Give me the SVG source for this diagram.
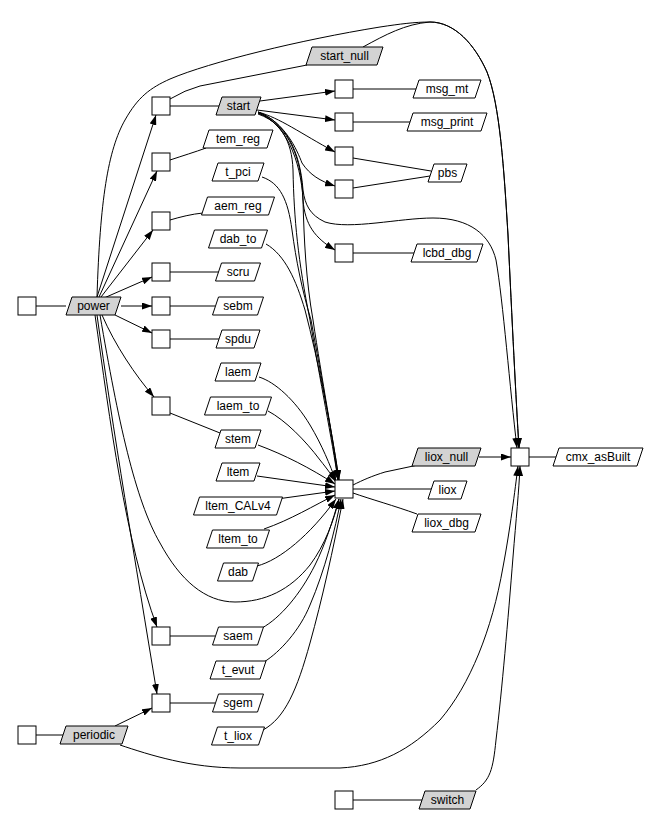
<svg xmlns="http://www.w3.org/2000/svg" width="660" height="816" viewBox="0 0 660 816">
<style>
.b{fill:#fff;stroke:#000;stroke-width:1}
.p{fill:#fff;stroke:#000;stroke-width:1}
.g{fill:#d3d3d3;stroke:#000;stroke-width:1}
text{font-family:"Liberation Sans",Arial,sans-serif;font-size:12px;text-anchor:middle;fill:#000}
.e{fill:none;stroke:#000;stroke-width:1}
.a{marker-end:url(#ah)}
</style>
<defs>
<marker id="ah" viewBox="0 0 10 7" refX="10" refY="3.5" markerWidth="10" markerHeight="7" markerUnits="userSpaceOnUse" orient="auto"><path d="M0,0L10,3.5L0,7z" fill="#000"/></marker>
</defs>
<rect width="660" height="816" fill="#fff"/>
<g id="edges">
<path class="e" d="M36,306L66,306"/>
<path class="e" d="M170,106L219,106"/>
<path class="e" d="M170,160C182,156 195,152 206,148"/>
<path class="e" d="M170,220C180,217 192,214 203,213"/>
<path class="e" d="M170,272L219,272"/>
<path class="e" d="M170,306L215,306"/>
<path class="e" d="M170,339L219,339"/>
<path class="e" d="M170,413L220,433"/>
<path class="e" d="M170,636L215,636"/>
<path class="e" d="M170,703L215,703"/>
<path class="e" d="M36,735L63,735"/>
<path class="e" d="M353,89L416,89"/>
<path class="e" d="M353,122L410,122"/>
<path class="e" d="M353,158L431,171"/>
<path class="e" d="M353,188L430,176"/>
<path class="e" d="M353,253L414,253"/>
<path class="e" d="M353,485C363,480 372,476 385,472L418,465"/>
<path class="e" d="M353,489L431,489"/>
<path class="e" d="M353,493C370,499 395,506 417,514"/>
<path class="e" d="M529,457L556,457"/>
<path class="e" d="M353,800L422,800"/>
<path class="e" d="M170,99Q185,90 200,86L307,65"/>
<path class="e a" d="M97,297L156,115"/>
<path class="e a" d="M99,297L157,171"/>
<path class="e a" d="M101,297L153,230"/>
<path class="e a" d="M104,298L152,277"/>
<path class="e a" d="M121,306L152,306"/>
<path class="e a" d="M115,315L152,333"/>
<path class="e a" d="M102,315C115,345 135,375 154,397"/>
<path class="e a" d="M95,315C110,420 125,540 157,627"/>
<path class="e a" d="M97,315C113,430 135,560 157,694"/>
<path class="e a" d="M100,315C118,420 135,500 160,543C180,580 205,602 235,602C265,602 290,590 310,565C325,545 334,520 339,499"/>
<path class="e a" d="M115,726L152,708"/>
<path class="e a" d="M120,745C150,755 190,768 240,768L340,768C380,766 410,750 440,720C470,685 492,630 503,567C510,530 515,490 518,466"/>
<path class="e a" d="M476,790C490,780 493,770 496,740C502,690 508,620 513,557C516,520 519,490 520,466"/>
<path class="e a" d="M479,457L511,457"/>
<path class="e a" d="M97,297C100,200 108,150 125,120C138,97 150,88 170,79C210,62 300,40 380,27C400,24 415,22 430,22C455,22 475,45 487,72C500,105 504,170 508,235C512,320 516,400 519,448"/>
<path class="e a" d="M363,47C385,35 405,24 430,22C455,22 475,45 487,72C500,105 504,170 508,235C512,320 516,400 519,448"/>
<path class="e a" d="M258,112C285,122 300,150 303,190C305,205 310,215 325,222C350,230 400,218 433,218C470,218 490,235 496,260C503,300 510,390 517,448"/>
<path class="e a" d="M260,101L335,91"/>
<path class="e a" d="M257,110L335,120"/>
<path class="e a" d="M258,112C280,118 300,133 335,152"/>
<path class="e a" d="M258,112C285,122 297,150 302,163C310,175 320,181 335,186"/>
<path class="e a" d="M258,113C285,122 301,160 303,200C305,225 315,238 335,250"/>
<path class="e a" d="M258,113C280,122 292,140 293,170C294,220 298,260 310,320C320,380 332,440 338,480"/>
<path class="e a" d="M258,114C290,125 302,160 303,200C304,240 306,280 313,320C322,380 333,440 339,480"/>
<path class="e a" d="M262,177C280,183 288,200 292,230C296,260 302,290 311,320C322,380 333,440 338,480"/>
<path class="e a" d="M266,244C285,255 296,280 305,310C318,360 332,430 339,480"/>
<path class="e a" d="M259,377C275,382 295,400 310,425C322,445 330,465 336,481"/>
<path class="e a" d="M268,411C285,420 305,440 320,460C328,470 333,477 336,482"/>
<path class="e a" d="M258,445C285,455 310,468 335,484"/>
<path class="e a" d="M257,476L335,487"/>
<path class="e a" d="M277,499L335,491"/>
<path class="e a" d="M264,529C290,520 315,505 335,495"/>
<path class="e a" d="M257,566C280,560 310,535 336,499"/>
<path class="e a" d="M262,628C280,618 300,595 315,565C325,545 333,520 339,499"/>
<path class="e a" d="M264,662C280,652 300,630 310,605C325,570 335,530 341,499"/>
<path class="e a" d="M263,730C285,718 297,690 310,643C322,600 333,550 343,499"/>
</g>
<g id="n_power_box"><rect class="b" x="18" y="297" width="18" height="18"/></g>
<g id="n_power"><polygon class="g" points="66,315 72,297 121,297 115,315"/><text x="93.5" y="310">power</text></g>
<g id="n_periodic_box"><rect class="b" x="18" y="726" width="18" height="18"/></g>
<g id="n_periodic"><polygon class="g" points="60,744 66,726 128,726 122,744"/><text x="94" y="739">periodic</text></g>
<g id="b_start"><rect class="b" x="152" y="97" width="18" height="18"/></g>
<g id="b_tem_reg"><rect class="b" x="152" y="153" width="18" height="18"/></g>
<g id="b_aem_reg"><rect class="b" x="152" y="212" width="18" height="18"/></g>
<g id="b_scru"><rect class="b" x="152" y="263" width="18" height="18"/></g>
<g id="b_sebm"><rect class="b" x="152" y="297" width="18" height="18"/></g>
<g id="b_spdu"><rect class="b" x="152" y="330" width="18" height="18"/></g>
<g id="b_stem"><rect class="b" x="152" y="397" width="18" height="18"/></g>
<g id="b_saem"><rect class="b" x="152" y="627" width="18" height="18"/></g>
<g id="b_sgem"><rect class="b" x="152" y="694" width="18" height="18"/></g>
<g id="n_start"><polygon class="g" points="216,115 222,97 261,97 255,115"/><text x="238.5" y="110">start</text></g>
<g id="n_tem_reg"><polygon class="p" points="203,148 209,130 273,130 267,148"/><text x="238" y="143">tem_reg</text></g>
<g id="n_t_pci"><polygon class="p" points="212,181 218,163 264,163 258,181"/><text x="238" y="176">t_pci</text></g>
<g id="n_aem_reg"><polygon class="p" points="201.5,215 207.5,197 274.5,197 268.5,215"/><text x="238" y="210">aem_reg</text></g>
<g id="n_dab_to"><polygon class="p" points="208.5,248 214.5,230 267.5,230 261.5,248"/><text x="238" y="243">dab_to</text></g>
<g id="n_scru"><polygon class="p" points="215.5,281 221.5,263 260.5,263 254.5,281"/><text x="238" y="276">scru</text></g>
<g id="n_sebm"><polygon class="p" points="212.5,315 218.5,297 263.5,297 257.5,315"/><text x="238" y="310">sebm</text></g>
<g id="n_spdu"><polygon class="p" points="216,348 222,330 260,330 254,348"/><text x="238" y="343">spdu</text></g>
<g id="n_laem"><polygon class="p" points="215,381 221,363 261,363 255,381"/><text x="238" y="376">laem</text></g>
<g id="n_laem_to"><polygon class="p" points="204.5,415 210.5,397 271.5,397 265.5,415"/><text x="238" y="410">laem_to</text></g>
<g id="n_stem"><polygon class="p" points="215,448 221,430 261,430 255,448"/><text x="238" y="443">stem</text></g>
<g id="n_ltem"><polygon class="p" points="216,481 222,463 260,463 254,481"/><text x="238" y="476">ltem</text></g>
<g id="n_ltem_CALv4"><polygon class="p" points="193.5,515 199.5,497 282.5,497 276.5,515"/><text x="238" y="510">ltem_CALv4</text></g>
<g id="n_ltem_to"><polygon class="p" points="206.5,548 212.5,530 269.5,530 263.5,548"/><text x="238" y="543">ltem_to</text></g>
<g id="n_dab"><polygon class="p" points="217.5,581 223.5,563 258.5,563 252.5,581"/><text x="238" y="576">dab</text></g>
<g id="n_saem"><polygon class="p" points="212.5,645 218.5,627 263.5,627 257.5,645"/><text x="238" y="640">saem</text></g>
<g id="n_t_evut"><polygon class="p" points="210,679 216,661 266,661 260,679"/><text x="238" y="674">t_evut</text></g>
<g id="n_sgem"><polygon class="p" points="212.5,712 218.5,694 263.5,694 257.5,712"/><text x="238" y="707">sgem</text></g>
<g id="n_t_liox"><polygon class="p" points="211.5,745 217.5,727 264.5,727 258.5,745"/><text x="238" y="740">t_liox</text></g>
<g id="n_start_null"><polygon class="g" points="306,65 312,47 383,47 377,65"/><text x="344.5" y="60">start_null</text></g>
<g id="b_msg_mt"><rect class="b" x="335" y="80" width="18" height="18"/></g>
<g id="b_msg_print"><rect class="b" x="335" y="113" width="18" height="18"/></g>
<g id="b_pbs1"><rect class="b" x="335" y="147" width="18" height="18"/></g>
<g id="b_pbs2"><rect class="b" x="335" y="180" width="18" height="18"/></g>
<g id="b_lcbd_dbg"><rect class="b" x="335" y="244" width="18" height="18"/></g>
<g id="b_liox"><rect class="b" x="335" y="480" width="18" height="18"/></g>
<g id="b_cmx"><rect class="b" x="511" y="448" width="18" height="18"/></g>
<g id="b_switch"><rect class="b" x="335" y="791" width="18" height="18"/></g>
<g id="n_msg_mt"><polygon class="p" points="413,98 419,80 481,80 475,98"/><text x="447" y="93">msg_mt</text></g>
<g id="n_msg_print"><polygon class="p" points="407,131 413,113 487,113 481,131"/><text x="447" y="126">msg_print</text></g>
<g id="n_pbs"><polygon class="p" points="428,182 434,164 467,164 461,182"/><text x="447.5" y="177">pbs</text></g>
<g id="n_lcbd_dbg"><polygon class="p" points="411,262 417,244 483,244 477,262"/><text x="447" y="257">lcbd_dbg</text></g>
<g id="n_liox_null"><polygon class="g" points="412,466 418,448 481,448 475,466"/><text x="446.5" y="461">liox_null</text></g>
<g id="n_liox"><polygon class="p" points="428,499 434,481 467,481 461,499"/><text x="447.5" y="494">liox</text></g>
<g id="n_liox_dbg"><polygon class="p" points="412,532 418,514 481,514 475,532"/><text x="446.5" y="527">liox_dbg</text></g>
<g id="n_cmx_asBuilt"><polygon class="p" points="553,466 559,448 643,448 637,466"/><text x="598" y="461">cmx_asBuilt</text></g>
<g id="n_switch"><polygon class="g" points="419,809 425,791 476,791 470,809"/><text x="447.5" y="804">switch</text></g>
</svg>
